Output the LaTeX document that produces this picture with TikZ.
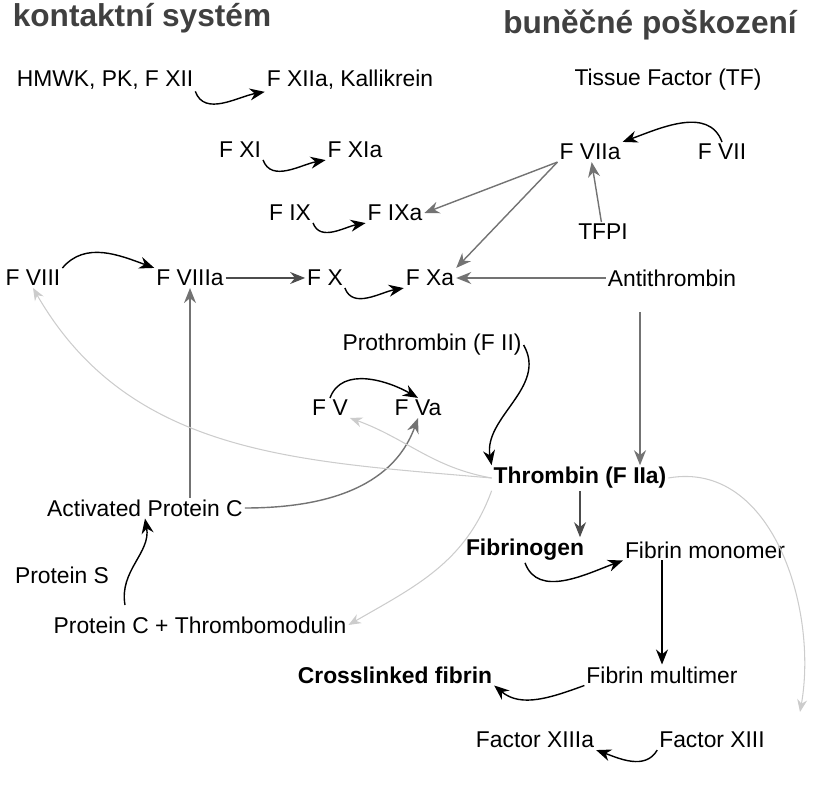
\documentclass[tikz,border=0pt]{standalone}
\usepackage{fontspec}
\setmainfont{Liberation Sans}
\usetikzlibrary{arrows.meta}
\tikzset{
    every node/.style={font=\fontsize{13}{15}\selectfont, inner sep=1pt},
    head/.style={font=\fontsize{18}{20}\selectfont\bfseries, text=black!75},
    key/.style={font=\fontsize{13}{15}\selectfont\bfseries},
    act/.style={draw, black, thick, -{Stealth[length=3mm, width=2.4mm]}},
    inh/.style={draw, black!55, thick, -{Stealth[length=3mm, width=2.4mm]}},
    faint/.style={draw, black!20, semithick, -{Stealth[length=2.5mm, width=2mm]}}
}
\begin{document}
\begin{tikzpicture}[x=0.02cm, y=-0.02cm]
    \useasboundingbox (0,0) rectangle (815,800);
    % Headers
    \node[head] (ks) at (142,18) {kontaktní systém};
    \node[head] (bp) at (650,25) {buněčné poškození};
    % Factors
    \node (hmwk) at (105,80) {HMWK, PK, F XII};
    \node (f12a) at (350,80) {F XIIa, Kallikrein};
    \node (tf) at (668,80) {Tissue Factor (TF)};
    \node (f11) at (240,150) {F XI};
    \node (f11a) at (355,150) {F XIa};
    \node (f7a) at (590,152) {F VIIa};
    \node (f7) at (722,152) {F VII};
    \node (f9) at (290,213) {F IX};
    \node (f9a) at (395,213) {F IXa};
    \node (tfpi) at (603,232) {TFPI};
    \node (f8) at (33,278) {F VIII};
    \node (f8a) at (190,278) {F VIIIa};
    \node (f10) at (325,278) {F X};
    \node (f10a) at (430,278) {F Xa};
    \node (at) at (672,278) {Antithrombin};
    \node (f2) at (432,345) {Prothrombin (F II)};
    \node (f5) at (330,408) {F V};
    \node (f5a) at (418,408) {F Va};
    \node[key] (thr) at (580,478) {Thrombin (F IIa)};
    \node (apc) at (145,508) {Activated Protein C};
    \node[key] (fbg) at (525,550) {Fibrinogen};
    \node (fmono) at (705,550) {Fibrin monomer};
    \node (ps) at (62,575) {Protein S};
    \node (pctm) at (200,625) {Protein C + Thrombomodulin};
    \node[key] (xfib) at (395,675) {Crosslinked fibrin};
    \node (fmult) at (662,675) {Fibrin multimer};
    \node (f13a) at (535,740) {Factor XIIIa};
    \node (f13) at (712,740) {Factor XIII};
    \coordinate (pcs) at (125,605);
    \coordinate (ats) at (640,312);
    \coordinate (end13) at (800,712);
    % Activations
    \draw[act] (hmwk.south east) to[out=-70, in=190] (f12a.south west);
    \draw[act] (f11.south east) to[out=-70, in=190] (f11a.south west);
    \draw[act] (f9.south east) to[out=-70, in=190] (f9a.south west);
    \draw[act] (f10.south east) to[out=-70, in=190] (f10a.south west);
    \draw[act] (f8.north east) to[out=50, in=160] (f8a.north west);
    \draw[act] (f5.north) to[out=70, in=150] (f5a.north);
    \draw[act] (f7.north) to[out=110, in=20] (f7a.north east);
    \draw[act] (f2.east) to[out=-60, in=100] (thr.north west);
    \draw[act] (fbg.south) to[out=-70, in=200] (fmono.south west);
    \draw[act] (fmono.south -| fmult.north) -- (fmult.north);
    \draw[act] (fmult.south west) to[out=200, in=-40] (xfib.south east);
    \draw[act] (f13.south west) to[out=-120, in=-20] (f13a.south east);
    \draw[act] (pcs) to[out=100, in=-80] (apc.south);
    % Gray influences
    \draw[inh] (tfpi) -- (f7a);
    \draw[inh] (f7a.south west) -- (f9a.east);
    \draw[inh] (f7a.south west) -- (f10a.north east);
    \draw[inh] (at.west) -- (f10a.east);
    \draw[inh] (ats) -- (ats |- thr.north);
    \draw[inh, black!70] (f8a.east) -- (f10.west);
    \draw[inh, black!70] (thr.south) -- (thr.south |- fbg.north);
    \draw[inh] (apc.north -| f8a.south) -- (f8a.south);
    \draw[inh] (apc.east) to[out=0, in=-110] (f5a.south);
    % Faint feedback
    \draw[faint] (thr.west) to[out=170, in=-20] (f5.south east);
    \draw[faint] (thr.west) to[out=175, in=-60] (f8.south);
    \draw[faint] (thr.south west) to[out=-110, in=30] (pctm.east);
    \draw[faint] (thr.east) to[out=10, in=80] (end13);
\end{tikzpicture}
\end{document}
